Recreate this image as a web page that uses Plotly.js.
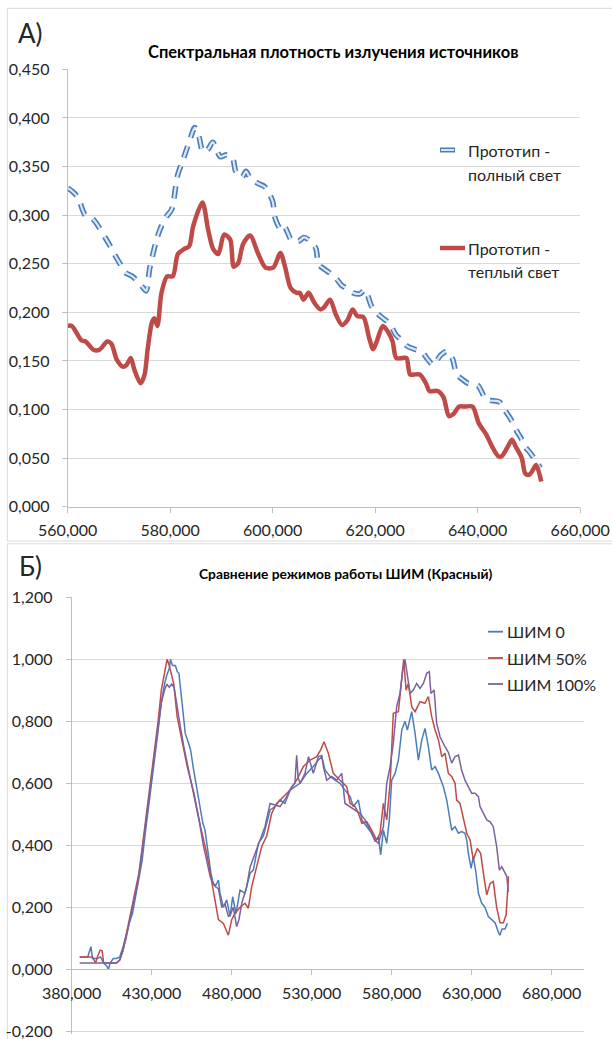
<!DOCTYPE html>
<html>
<head>
<meta charset="utf-8">
<script src="https://cdn.plot.ly/plotly-3.0.1.min.js"></script>
<style>html,body{margin:0;padding:0;background:#fff;}#chart{width:612px;height:1039px;}</style>
</head>
<body>
<div id="chart"></div>
<script>
// ---------- Panel A data (wavelength, spectral density) ----------
const fullLightX = [560, 561, 562, 563.4, 564.5, 565.4, 567.3, 568.3, 569.2, 570.2,
  571.2, 572.6, 573.6, 574.6, 575.3, 576, 577.2, 578, 579.2, 580.3,
  581.4, 582.5, 583.7, 584.8, 585.6, 586.4, 587.4, 588.3, 589, 589.8,
  591, 592.1, 592.8, 594, 594.8, 595.5, 597, 598.5, 600, 600.4,
  601.6, 602.3, 603.7, 605, 606.1, 607.2, 608.4, 609, 610.2, 611.5,
  612.5, 613.4, 614.6, 615.7, 617, 618, 619.3, 620.2, 621, 622,
  623, 624, 625.2, 626.3, 627.7, 629, 630.2, 631.3, 632.8, 634,
  635.1, 635.9, 637, 638.1, 639.1, 640, 640.8, 641.6, 643, 644.2,
  645.2, 646.1, 647, 647.7, 648.5, 649.2, 650.3, 651.5, 652.2];
const fullLightY = [0.328, 0.324, 0.318, 0.300, 0.298, 0.293, 0.277, 0.268, 0.259, 0.250,
  0.241, 0.237, 0.232, 0.226, 0.222, 0.245, 0.272, 0.285, 0.298, 0.306,
  0.340, 0.357, 0.375, 0.390, 0.381, 0.365, 0.368, 0.375, 0.368, 0.360,
  0.362, 0.360, 0.345, 0.339, 0.345, 0.339, 0.333, 0.329, 0.314, 0.298,
  0.285, 0.288, 0.274, 0.273, 0.277, 0.274, 0.266, 0.249, 0.244, 0.239,
  0.234, 0.228, 0.224, 0.220, 0.219, 0.223, 0.206, 0.200, 0.196, 0.192,
  0.187, 0.177, 0.171, 0.165, 0.162, 0.160, 0.152, 0.146, 0.156, 0.160,
  0.152, 0.136, 0.131, 0.127, 0.126, 0.125, 0.118, 0.110, 0.109, 0.108,
  0.100, 0.093, 0.085, 0.077, 0.070, 0.062, 0.055, 0.046, 0.040];

const warmLightX = [560, 560.8, 562.7, 563.5, 565, 566.2, 567.7, 568.5, 569.6, 570.8,
  571.5, 572.3, 573, 574.2, 575, 575.6, 576.4, 576.9, 577.5, 578.3,
  579.4, 580.5, 581.5, 582.7, 583.7, 584.5, 586.3, 587.4, 588.4, 589.4,
  590.5, 591.7, 592.4, 593.3, 594.2, 595.6, 597.1, 598.6, 600.1, 601.5,
  602.4, 603.5, 604.7, 605.3, 606, 607, 608.1, 609.3, 610, 611.2,
  612.3, 613.5, 614.6, 615.6, 616.5, 617.7, 618.8, 619.6, 620.3, 621.5,
  622.6, 623.4, 624.1, 625.3, 626.1, 626.8, 627.6, 628.7, 629.9, 630.6,
  632.2, 633.3, 634.4, 635.2, 636.4, 637.5, 639, 640.2, 641.7, 642.8,
  644, 644.7, 645.9, 646.7, 647.4, 648.6, 649.3, 650.1, 650.8, 651.4, 652.4];
const warmLightY = [0.186, 0.186, 0.171, 0.170, 0.1615, 0.1615, 0.170, 0.168, 0.151, 0.144,
  0.146, 0.153, 0.141, 0.127, 0.136, 0.162, 0.189, 0.194, 0.186, 0.220,
  0.237, 0.237, 0.260, 0.265, 0.268, 0.289, 0.313, 0.285, 0.265, 0.260,
  0.280, 0.275, 0.247, 0.251, 0.270, 0.279, 0.261, 0.246, 0.246, 0.261,
  0.247, 0.225, 0.220, 0.220, 0.213, 0.220, 0.210, 0.203, 0.205, 0.213,
  0.198, 0.187, 0.192, 0.203, 0.196, 0.195, 0.174, 0.162, 0.170, 0.186,
  0.179, 0.170, 0.153, 0.153, 0.153, 0.136, 0.136, 0.136, 0.127, 0.119,
  0.119, 0.113, 0.093, 0.095, 0.103, 0.103, 0.103, 0.086, 0.074, 0.062,
  0.052, 0.052, 0.062, 0.069, 0.062, 0.050, 0.034, 0.033, 0.038, 0.043, 0.026];

// ---------- Panel B data (wavelength, normalized intensity) ----------
const pwm0X = [385, 388, 390, 392, 393, 396, 398, 400, 402, 403,
  404, 406, 408, 410, 412, 414, 416, 418, 420, 422,
  424, 426, 428, 430, 432, 434, 436, 438, 439.5, 441,
  441.7, 443, 444.8, 446, 447, 449, 451, 453, 454.3, 456,
  457.4, 459, 460.5, 462, 463.3, 465.4, 467, 468.5, 470, 471.7,
  472.7, 474.8, 476.9, 479, 480.6, 482.7, 485.2, 488.3, 491.5, 493.5,
  496.7, 499.8, 502, 504, 507.1, 510.2, 513.3, 516.5, 519.6, 522.7,
  526.9, 531, 534.2, 536.3, 538.3, 541.5, 544.6, 547.7, 550.8, 554,
  556, 559.2, 561.3, 564.4, 567.5, 569.6, 571.7, 573.1, 574.8, 576.9,
  578.5, 580, 582.1, 584.2, 586.3, 588.3, 589.8, 592.5, 594.6, 596.7,
  598.8, 600.8, 602.9, 605, 607.1, 609.2, 612.3, 614.4, 616.5, 617.5,
  619.6, 621.7, 623.7, 625.8, 626.9, 627.9, 629.6, 631, 632.7, 634.2,
  636.3, 638.3, 640.4, 642.5, 644.6, 646.7, 647.6, 649, 650.8, 652.3];
const pwm0Y = [0.04, 0.04, 0.04, 0.073, 0.035, 0.035, 0.04, 0.02, 0.01, 0.0,
  0.02, 0.035, 0.035, 0.04, 0.07, 0.11, 0.15, 0.18, 0.24, 0.29,
  0.35, 0.44, 0.52, 0.6, 0.68, 0.77, 0.86, 0.92, 0.95, 0.97,
  1.0, 0.98, 0.98, 0.96, 0.955, 0.85, 0.76, 0.73, 0.708, 0.65,
  0.61, 0.56, 0.525, 0.47, 0.45, 0.363, 0.31, 0.277, 0.27, 0.288,
  0.245, 0.2, 0.224, 0.17, 0.234, 0.18, 0.256, 0.245, 0.31, 0.32,
  0.406, 0.43, 0.47, 0.514, 0.525, 0.546, 0.535, 0.578, 0.589, 0.6,
  0.632, 0.654, 0.675, 0.686, 0.643, 0.622, 0.61, 0.6, 0.578, 0.557,
  0.525, 0.546, 0.482, 0.46, 0.439, 0.412, 0.428, 0.369, 0.449, 0.406,
  0.482, 0.61, 0.632, 0.675, 0.772, 0.8, 0.772, 0.831, 0.761, 0.675,
  0.74, 0.777, 0.718, 0.643, 0.654, 0.632, 0.589, 0.546, 0.482, 0.449,
  0.46, 0.439, 0.444, 0.439, 0.417, 0.374, 0.326, 0.363, 0.31, 0.245,
  0.213, 0.2, 0.17, 0.16, 0.15, 0.12, 0.11, 0.13, 0.13, 0.148];

const pwm50X = [385, 390, 393, 395, 396, 397.8, 399, 400, 404, 408,
  410, 412, 414, 416, 418, 420, 422, 424, 426, 428,
  430, 432, 434, 436, 438, 439.6, 441, 443.8, 445.9, 449,
  452.2, 456.4, 460.5, 464.4, 466.5, 469.6, 471.7, 474.8, 477.9, 480,
  482, 485.2, 488.3, 490.4, 492.5, 495.6, 498.8, 501.9, 505, 508.1,
  512.3, 516.5, 520.6, 524.8, 529, 533.1, 535.6, 537.7, 540.4, 543.5,
  547.7, 551.9, 554, 557.1, 559.2, 561.3, 564.4, 567.5, 570.6, 572.7,
  574.8, 576.9, 579, 581, 584.2, 585.2, 587.5, 589, 590.4, 592.5,
  594.6, 597.7, 600.8, 602.9, 605, 607.1, 609.2, 611.3, 613.3, 615.4,
  617.5, 619.6, 620.6, 622.7, 624.8, 626.9, 629, 631, 633.5, 635.6,
  637.3, 639.4, 641.5, 643.5, 645.6, 647.7, 649.8, 651.5, 652.5, 653];
const pwm50Y = [0.04, 0.04, 0.04, 0.02, 0.04, 0.062, 0.06, 0.02, 0.02, 0.02,
  0.03, 0.06, 0.11, 0.16, 0.2, 0.26, 0.31, 0.39, 0.47, 0.56,
  0.64, 0.72, 0.8, 0.9, 0.96, 1.0, 0.98, 0.92, 0.815, 0.74,
  0.654, 0.568, 0.46, 0.374, 0.31, 0.213, 0.16, 0.148, 0.11, 0.16,
  0.18, 0.2, 0.213, 0.197, 0.267, 0.331, 0.397, 0.43, 0.503, 0.535,
  0.557, 0.578, 0.61, 0.654, 0.675, 0.686, 0.708, 0.734, 0.697, 0.632,
  0.61, 0.589, 0.535, 0.525, 0.503, 0.471, 0.476, 0.449, 0.417, 0.439,
  0.535, 0.482, 0.6, 0.826, 0.831, 0.88, 1.0, 0.9, 0.922, 0.847,
  0.831, 0.863, 0.858, 0.88, 0.815, 0.772, 0.74, 0.686, 0.697, 0.632,
  0.622, 0.6, 0.546, 0.535, 0.482, 0.439, 0.417, 0.353, 0.39, 0.374,
  0.31, 0.24, 0.277, 0.283, 0.2, 0.15, 0.15, 0.175, 0.256, 0.3];

const pwm100X = [385, 390, 395, 400, 405, 408, 410, 412, 414, 416,
  418, 420, 422, 424, 426, 428, 430, 432, 434, 436,
  438, 439.5, 441, 442.5, 444, 446, 448, 450, 452, 455,
  458, 460, 462.3, 464.5, 466.5, 468, 469.6, 471.7, 473.8, 475.9,
  477.9, 479.5, 481, 483.1, 484.5, 486.3, 489.4, 491.5, 494.6, 497.7,
  500.8, 504, 507, 510.2, 514.4, 517.5, 519.5, 520.6, 521.5, 522.7,
  525.8, 528, 531, 534.2, 536.3, 537.3, 539.4, 542.5, 545.6, 548.8,
  550.8, 554, 557.1, 560.2, 563.3, 566.5, 569.6, 571.7, 574.8, 576.9,
  579, 581, 583.1, 585.2, 586.9, 588.3, 589.8, 591.5, 593.5, 595.6,
  597.7, 599.8, 601.9, 603.5, 604.5, 606.5, 608.1, 610.2, 613.3, 615.4,
  617.5, 619.6, 621.7, 623.7, 625.8, 627.9, 630, 632.1, 634.2, 635.2,
  637.3, 639.4, 641.5, 643.5, 645.6, 647.3, 648.8, 650.8, 651.9, 652.9];
const pwm100Y = [0.02, 0.02, 0.02, 0.02, 0.02, 0.02, 0.03, 0.06, 0.1, 0.15,
  0.19, 0.25, 0.3, 0.38, 0.46, 0.54, 0.62, 0.7, 0.78, 0.86,
  0.9, 0.92, 0.91, 0.92, 0.91, 0.84, 0.78, 0.72, 0.67, 0.6,
  0.52, 0.47, 0.4, 0.35, 0.3, 0.28, 0.267, 0.26, 0.2, 0.21,
  0.17, 0.18, 0.2, 0.138, 0.16, 0.213, 0.267, 0.33, 0.374, 0.417,
  0.46, 0.535, 0.53, 0.525, 0.557, 0.589, 0.6, 0.69, 0.62, 0.6,
  0.632, 0.686, 0.632, 0.686, 0.69, 0.654, 0.61, 0.622, 0.61, 0.632,
  0.535, 0.525, 0.514, 0.503, 0.482, 0.449, 0.417, 0.406, 0.46, 0.6,
  0.654, 0.729, 0.847, 0.89, 0.966, 1.0, 0.955, 0.89, 0.901, 0.922,
  0.906, 0.922, 0.955, 0.96, 0.89, 0.901, 0.794, 0.75, 0.718, 0.7,
  0.665, 0.686, 0.691, 0.643, 0.61, 0.589, 0.568, 0.568, 0.557, 0.525,
  0.503, 0.482, 0.476, 0.46, 0.396, 0.32, 0.331, 0.31, 0.3, 0.25];

// ---------- texts ----------
const panelLabels = ['А)', 'Б)'];
const titleA = 'Спектральная плотность излучения источников';
const titleB = 'Сравнение режимов работы ШИМ (Красный)';
const legendA = [['Прототип -', 'полный свет'], ['Прототип -', 'теплый свет']];
const legendB = ['ШИМ 0', 'ШИМ 50%', 'ШИМ 100%'];
const yTicksB = [-0.2, 0, 0.2, 0.4, 0.6, 0.8, 1.0, 1.2];
const yTickTextB = ['-0,200', '0,000', '0,200', '0,400', '0,600', '0,800', '1,000', '1,200'];

// ---------- geometry helpers (pixel -> paper) ----------
const W = 612, H = 1039;
const fx = p => p / W, fy = p => 1 - p / H;

const BLUE = '#4A7EBB', RED = '#BE4B48', PURPLE = '#7D60A0', PALE = '#DCE7F4';
const GRID = '#d9d9d9', AXIS = '#bfbfbf', TXT = '#262626';
const FONT = 'Lato, "Open Sans", sans-serif';
const DASH = '12px,9px';

const traces = [
  {x: fullLightX, y: fullLightY, xaxis: 'x', yaxis: 'y', type: 'scatter', mode: 'lines',
   line: {color: BLUE, width: 5.5, dash: DASH, shape: 'spline', smoothing: 0.8}},
  {x: fullLightX, y: fullLightY, xaxis: 'x', yaxis: 'y', type: 'scatter', mode: 'lines',
   line: {color: PALE, width: 2.2, dash: DASH, shape: 'spline', smoothing: 0.8}},
  {x: warmLightX, y: warmLightY, xaxis: 'x', yaxis: 'y', type: 'scatter', mode: 'lines',
   line: {color: RED, width: 4.5, shape: 'spline', smoothing: 0.8}},
  {x: pwm0X, y: pwm0Y, xaxis: 'x2', yaxis: 'y2', type: 'scatter', mode: 'lines',
   line: {color: BLUE, width: 1.5}},
  {x: pwm50X, y: pwm50Y, xaxis: 'x2', yaxis: 'y2', type: 'scatter', mode: 'lines',
   line: {color: RED, width: 1.5}},
  {x: pwm100X, y: pwm100Y, xaxis: 'x2', yaxis: 'y2', type: 'scatter', mode: 'lines',
   line: {color: PURPLE, width: 1.5}}
];

const tickFont = {family: FONT, size: 16, color: TXT};
const baseAxis = {showline: true, linecolor: AXIS, linewidth: 1, ticks: 'outside', ticklen: 5,
  tickcolor: AXIS, zeroline: false, tickfont: tickFont, fixedrange: true, ticklabeloverflow: 'allow'};

const layout = {
  width: W, height: H, margin: {l: 0, r: 0, t: 0, b: 0},
  paper_bgcolor: '#ffffff', plot_bgcolor: '#ffffff',
  separators: ', ', showlegend: false, hovermode: false,
  font: {family: FONT, size: 16, color: TXT},
  xaxis: Object.assign({}, baseAxis, {domain: [fx(67.7), fx(580.2)], range: [560, 660],
    tick0: 560, dtick: 20, tickformat: '.3f', showgrid: false, anchor: 'y', ticklabelstandoff: 4}),
  yaxis: Object.assign({}, baseAxis, {domain: [fy(506.7), fy(69.3)], range: [0, 0.45],
    tick0: 0, dtick: 0.05, tickformat: '.3f', showgrid: true, gridcolor: GRID, anchor: 'x', ticklabelstandoff: 9}),
  xaxis2: Object.assign({}, baseAxis, {domain: [fx(71.7), fx(583.7)], range: [380, 700],
    tick0: 380, dtick: 50, tickformat: '.3f', showgrid: false, anchor: 'free', position: fy(969.3), ticklabelstandoff: 4}),
  yaxis2: Object.assign({}, baseAxis, {domain: [fy(1034.4), fy(597.3)], range: [-0.21, 1.2],
    tickmode: 'array', tickvals: yTicksB, ticktext: yTickTextB, showgrid: true, gridcolor: GRID, anchor: 'x2', ticklabelstandoff: 10}),
  shapes: [
    // chart-area frames
    {type: 'rect', xref: 'paper', yref: 'paper', x0: fx(7.3), x1: 1.05, y0: fy(541), y1: fy(8.3),
     line: {color: GRID, width: 1}, layer: 'below'},
    {type: 'rect', xref: 'paper', yref: 'paper', x0: fx(7.3), x1: 1.05, y0: -0.05, y1: fy(543.8),
     line: {color: GRID, width: 1}, layer: 'below'},
    // legend keys, panel A
    {type: 'line', xref: 'paper', yref: 'paper', x0: fx(440), x1: fx(455), y0: fy(150), y1: fy(150), line: {color: BLUE, width: 5}},
    {type: 'line', xref: 'paper', yref: 'paper', x0: fx(441), x1: fx(454), y0: fy(150), y1: fy(150), line: {color: PALE, width: 2}},
    {type: 'line', xref: 'paper', yref: 'paper', x0: fx(440), x1: fx(465), y0: fy(248), y1: fy(248), line: {color: RED, width: 4.5}},
    // legend keys, panel B
    {type: 'line', xref: 'paper', yref: 'paper', x0: fx(488), x1: fx(503), y0: fy(631.7), y1: fy(631.7), line: {color: BLUE, width: 1.8}},
    {type: 'line', xref: 'paper', yref: 'paper', x0: fx(488), x1: fx(503), y0: fy(658), y1: fy(658), line: {color: RED, width: 1.8}},
    {type: 'line', xref: 'paper', yref: 'paper', x0: fx(488), x1: fx(503), y0: fy(684), y1: fy(684), line: {color: PURPLE, width: 1.8}}
  ],
  annotations: []
};

function ann(text, px, py, opts) {
  return Object.assign({text: text, xref: 'paper', yref: 'paper', x: fx(px), y: fy(py),
    xanchor: 'left', yanchor: 'middle', showarrow: false,
    font: {family: FONT, size: 16, color: TXT}}, opts || {});
}
layout.annotations.push(ann(panelLabels[0], 16, 32.5, {font: {family: FONT, size: 26, color: TXT}}));
layout.annotations.push(ann(panelLabels[1], 16.5, 566, {font: {family: FONT, size: 26, color: TXT}}));
layout.annotations.push(ann(titleA, 333.5, 51.7, {xanchor: 'center', font: {family: FONT, size: 16.5, weight: 700, color: '#000'}}));
layout.annotations.push(ann(titleB, 345.5, 573, {xanchor: 'center', font: {family: FONT, size: 13.8, weight: 700, color: '#000'}}));
layout.annotations.push(ann(legendA[0][0], 466, 150));
layout.annotations.push(ann(legendA[0][1], 466, 175));
layout.annotations.push(ann(legendA[1][0], 466, 248));
layout.annotations.push(ann(legendA[1][1], 466, 272));
const legYB = [631.7, 658, 684];
legendB.forEach((t, i) => layout.annotations.push(ann(t, 505, legYB[i])));

Plotly.newPlot('chart', traces, layout, {staticPlot: true, displayModeBar: false});
</script>
</body>
</html>
